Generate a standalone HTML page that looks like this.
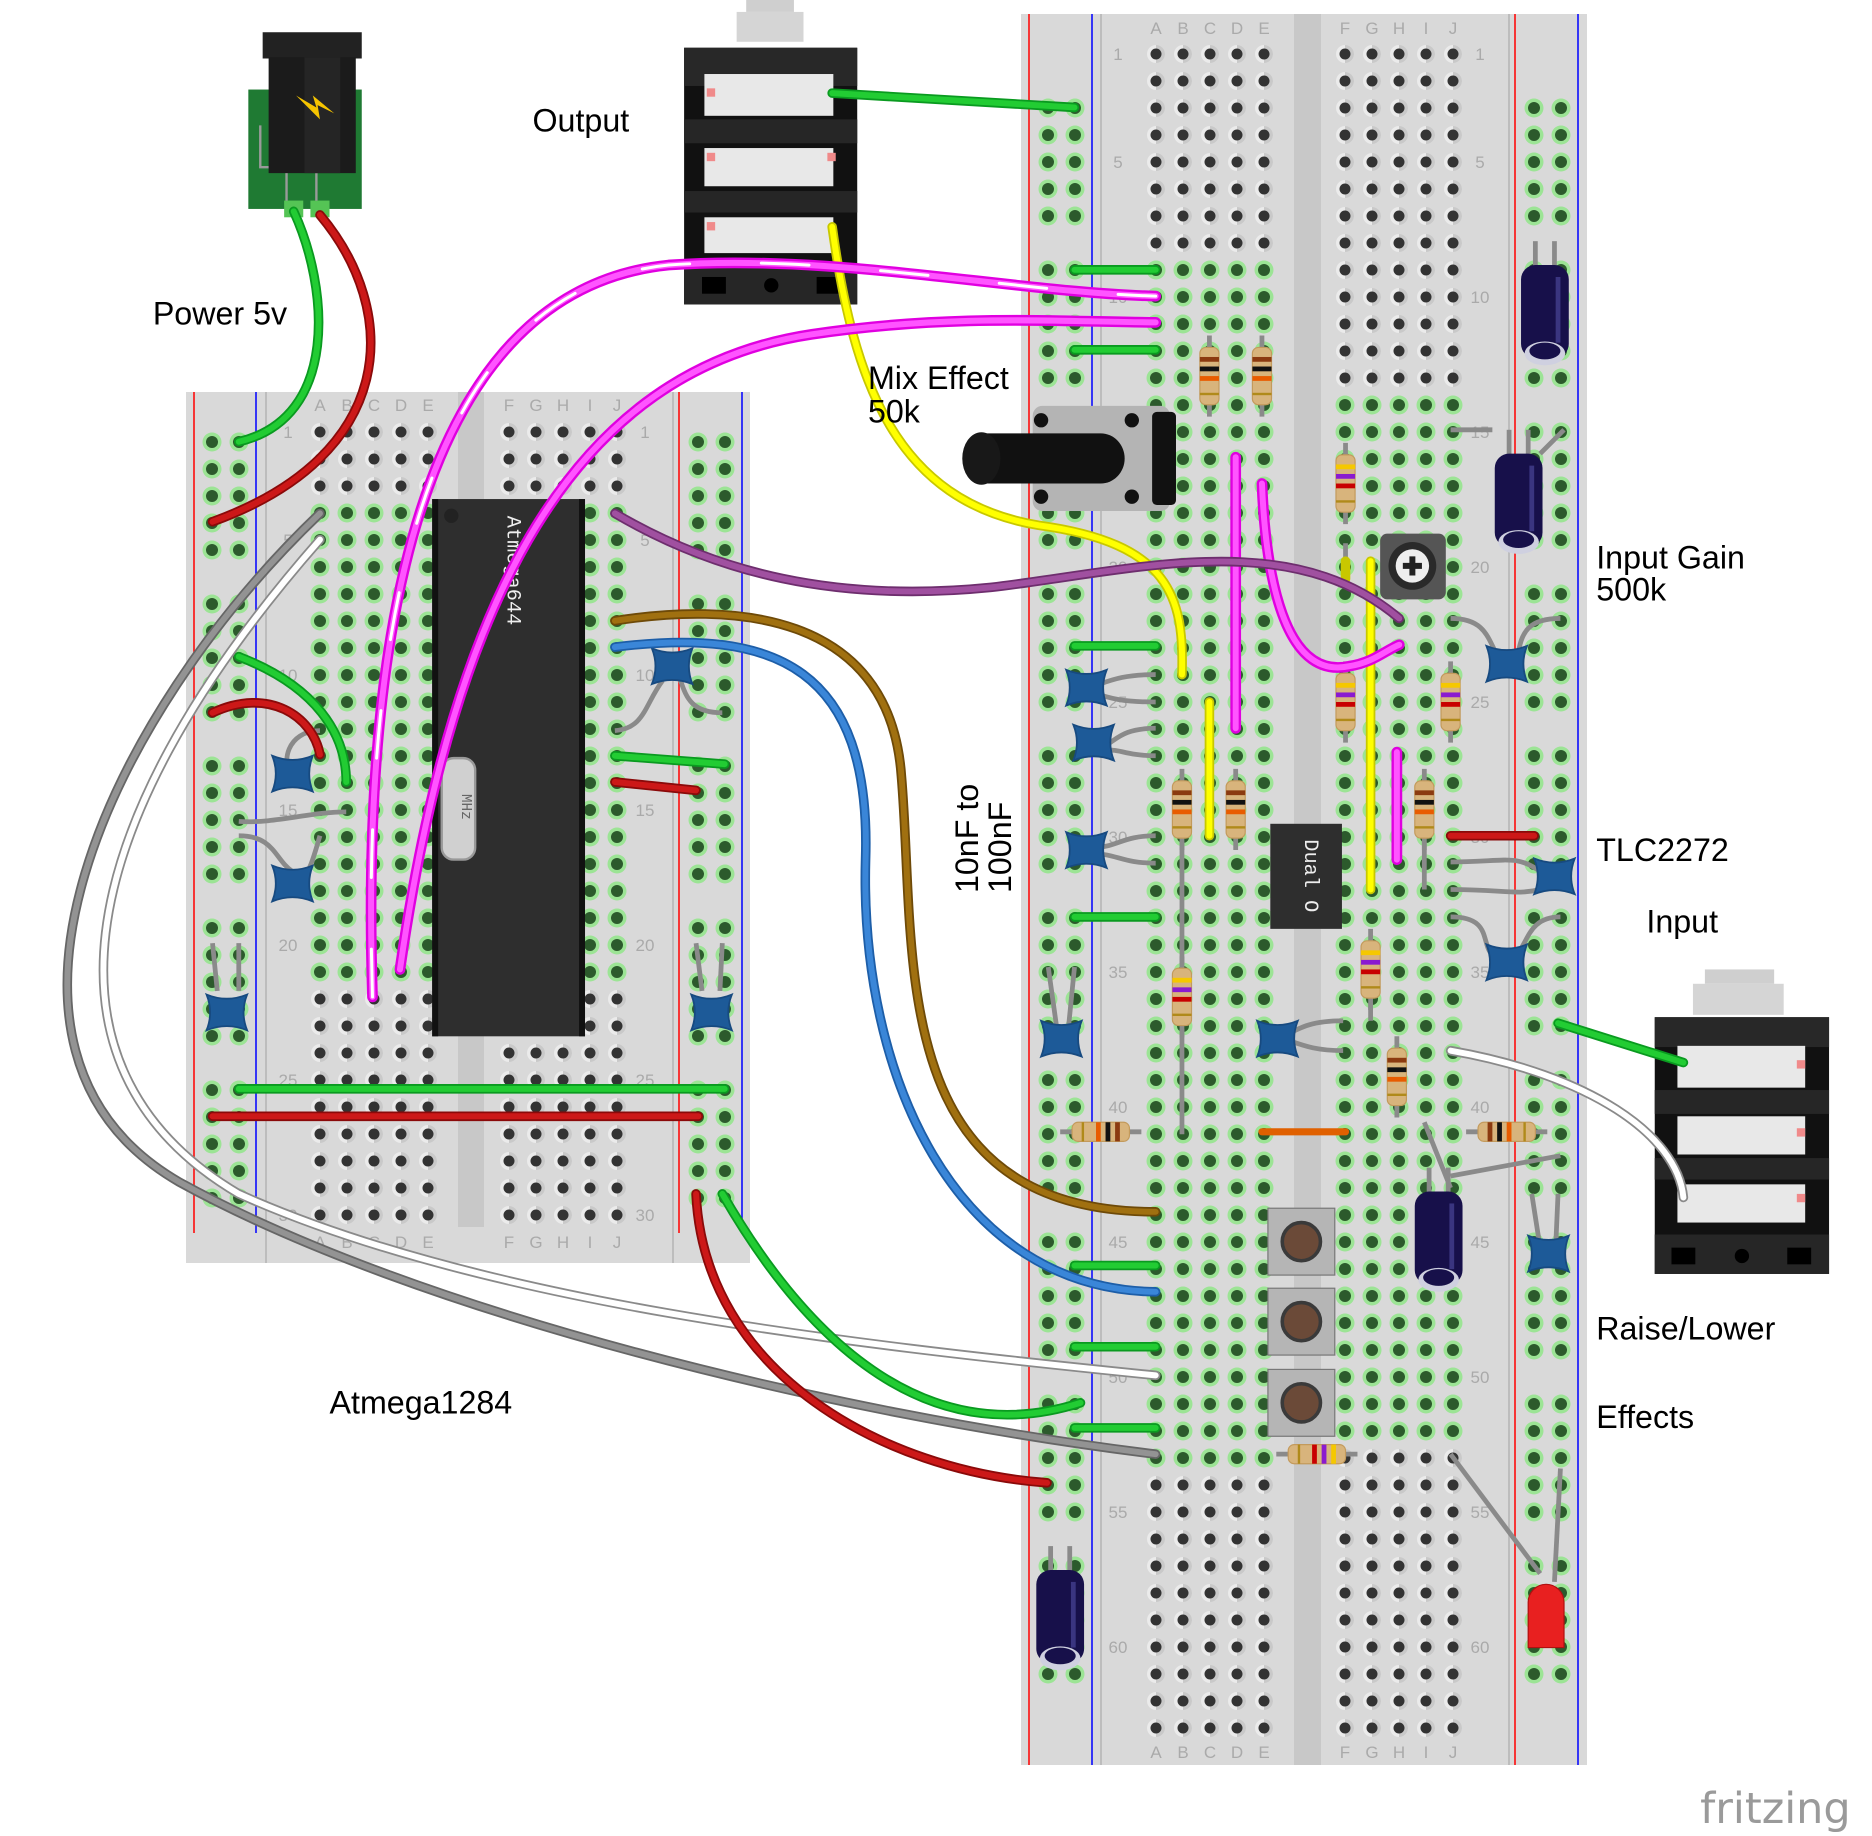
<!DOCTYPE html>
<html><head><meta charset="utf-8"><style>html,body{margin:0;padding:0;background:#fff}svg{display:block}</style></head>
<body>
<svg xmlns="http://www.w3.org/2000/svg" width="1872" height="1836" viewBox="0 0 1872 1836">
<defs>
<pattern id="ph" width="27" height="27" patternUnits="userSpaceOnUse">
<circle cx="13.5" cy="13.5" r="9" fill="#ebebeb"/><path d="M13.5 4.5 A9 9 0 0 1 13.5 22.5Z" fill="#c9c9c9"/><circle cx="13.5" cy="13.5" r="5.5" fill="#333"/></pattern>
<pattern id="pg" width="27" height="27" patternUnits="userSpaceOnUse">
<rect width="27" height="27" fill="#d9d9d9"/><circle cx="13.5" cy="13.5" r="9.5" fill="#9ce495"/><circle cx="13.5" cy="13.5" r="6" fill="#2c5a2c"/></pattern>
<pattern id="rg" width="27" height="162" patternUnits="userSpaceOnUse">
<circle cx="13.5" cy="13.5" r="9.5" fill="#9ce495"/><circle cx="13.5" cy="13.5" r="6" fill="#2c5a2c"/>
<circle cx="13.5" cy="40.5" r="9.5" fill="#9ce495"/><circle cx="13.5" cy="40.5" r="6" fill="#2c5a2c"/>
<circle cx="13.5" cy="67.5" r="9.5" fill="#9ce495"/><circle cx="13.5" cy="67.5" r="6" fill="#2c5a2c"/>
<circle cx="13.5" cy="94.5" r="9.5" fill="#9ce495"/><circle cx="13.5" cy="94.5" r="6" fill="#2c5a2c"/>
<circle cx="13.5" cy="121.5" r="9.5" fill="#9ce495"/><circle cx="13.5" cy="121.5" r="6" fill="#2c5a2c"/></pattern>
<g id="res"><line x1="0" y1="-34" x2="0" y2="34" stroke="#8a8a8a" stroke-width="4"/><rect x="-8" y="-24" width="16" height="48" rx="5" fill="#d8b47c" stroke="#c39a5c"/><rect x="-8" y="-16" width="16" height="4" fill="#8b3a10"/><rect x="-8" y="-8" width="16" height="4" fill="#111"/><rect x="-8" y="0" width="16" height="4" fill="#e85c00"/><rect x="-8" y="14" width="16" height="2" fill="#b08a1a"/></g>
<g id="res2"><line x1="0" y1="-34" x2="0" y2="34" stroke="#8a8a8a" stroke-width="4"/><rect x="-8" y="-24" width="16" height="48" rx="5" fill="#d8b47c" stroke="#c39a5c"/><rect x="-8" y="-16" width="16" height="4" fill="#f5c800"/><rect x="-8" y="-8" width="16" height="4" fill="#8a1ad0"/><rect x="-8" y="0" width="16" height="4" fill="#c80000"/><rect x="-8" y="14" width="16" height="2" fill="#b08a1a"/></g>
<g id="cap"><path d="M-17,-15 Q0,-8 17,-15 Q11,0 17,15 Q0,8 -17,15 Q-11,0 -17,-15Z" fill="#1d5a98" stroke="#174a80" stroke-width="1.5"/></g>
<g id="ecap"><line x1="-8" y1="-60" x2="-8" y2="-35" stroke="#8a8a8a" stroke-width="4"/><line x1="8" y1="-60" x2="8" y2="-35" stroke="#8a8a8a" stroke-width="4"/><rect x="-20" y="-40" width="40" height="78" rx="12" fill="#17104a"/><ellipse cx="0" cy="34" rx="17" ry="10" fill="#cfd0e0"/><ellipse cx="0" cy="32" rx="13" ry="7" fill="#17104a"/><rect x="9" y="-30" width="4" height="55" fill="#3a3580"/></g>
<g id="btn"><rect x="-28" y="-28" width="56" height="56" fill="#b5b5b5" stroke="#777"/><circle cx="0" cy="0" r="16" fill="#6b4a38" stroke="#3a3a3a" stroke-width="3"/></g>
</defs>

<!-- RIGHT BREADBOARD -->
<rect x="1021" y="14" width="566" height="1751" fill="#d9d9d9"/>
<rect x="1294" y="14" width="27" height="1751" fill="#c8c8c8"/>
<line x1="1029" y1="14" x2="1029" y2="1765" stroke="#f00" stroke-width="1.5"/>
<line x1="1092" y1="14" x2="1092" y2="1765" stroke="#00f" stroke-width="1.5"/>
<line x1="1515" y1="14" x2="1515" y2="1765" stroke="#f00" stroke-width="1.5"/>
<line x1="1578" y1="14" x2="1578" y2="1765" stroke="#00f" stroke-width="1.5"/>
<line x1="1101" y1="14" x2="1101" y2="1765" stroke="#bdbdbd" stroke-width="2"/>
<line x1="1509" y1="14" x2="1509" y2="1765" stroke="#bdbdbd" stroke-width="2"/>
<g transform="translate(1034.5,94.5)"><rect width="54" height="1620" fill="url(#rg)"/></g>
<g transform="translate(1520.5,94.5)"><rect width="54" height="1620" fill="url(#rg)"/></g>
<g transform="translate(1142.5,40.5)"><rect width="135" height="1701" fill="url(#ph)"/></g>
<g transform="translate(1331.5,40.5)"><rect width="135" height="1701" fill="url(#ph)"/></g>
<g transform="translate(1142.5,256.5)"><rect width="135" height="1215" fill="url(#pg)"/></g>
<g transform="translate(1331.5,391.5)"><rect width="135" height="1053" fill="url(#pg)"/></g>
<g font-family="Liberation Sans, sans-serif" font-size="17" fill="#aaa" text-anchor="middle">
<text x="1156" y="34">A</text><text x="1183" y="34">B</text><text x="1210" y="34">C</text><text x="1237" y="34">D</text><text x="1264" y="34">E</text>
<text x="1345" y="34">F</text><text x="1372" y="34">G</text><text x="1399" y="34">H</text><text x="1426" y="34">I</text><text x="1453" y="34">J</text>
<text x="1156" y="1758">A</text><text x="1183" y="1758">B</text><text x="1210" y="1758">C</text><text x="1237" y="1758">D</text><text x="1264" y="1758">E</text>
<text x="1345" y="1758">F</text><text x="1372" y="1758">G</text><text x="1399" y="1758">H</text><text x="1426" y="1758">I</text><text x="1453" y="1758">J</text>
<text x="1118" y="60">1</text><text x="1118" y="168">5</text><text x="1118" y="303">10</text><text x="1118" y="438">15</text><text x="1118" y="573">20</text><text x="1118" y="708">25</text><text x="1118" y="843">30</text><text x="1118" y="978">35</text><text x="1118" y="1113">40</text><text x="1118" y="1248">45</text><text x="1118" y="1383">50</text><text x="1118" y="1518">55</text><text x="1118" y="1653">60</text>
<text x="1480" y="60">1</text><text x="1480" y="168">5</text><text x="1480" y="303">10</text><text x="1480" y="438">15</text><text x="1480" y="573">20</text><text x="1480" y="708">25</text><text x="1480" y="843">30</text><text x="1480" y="978">35</text><text x="1480" y="1113">40</text><text x="1480" y="1248">45</text><text x="1480" y="1383">50</text><text x="1480" y="1518">55</text><text x="1480" y="1653">60</text>
</g>

<!-- LEFT BREADBOARD -->
<rect x="186" y="392" width="564" height="871" fill="#d9d9d9"/>
<rect x="458" y="392" width="26" height="835" fill="#c8c8c8"/>
<line x1="194" y1="392" x2="194" y2="1233" stroke="#f00" stroke-width="1.5"/>
<line x1="256" y1="392" x2="256" y2="1233" stroke="#00f" stroke-width="1.5"/>
<line x1="679" y1="392" x2="679" y2="1233" stroke="#f00" stroke-width="1.5"/>
<line x1="742" y1="392" x2="742" y2="1233" stroke="#00f" stroke-width="1.5"/>
<line x1="266" y1="392" x2="266" y2="1263" stroke="#bdbdbd" stroke-width="2"/>
<line x1="673" y1="392" x2="673" y2="1263" stroke="#bdbdbd" stroke-width="2"/>
<g transform="translate(198.5,428.5)"><rect width="54" height="810" fill="url(#rg)"/></g>
<g transform="translate(684.5,428.5)"><rect width="54" height="810" fill="url(#rg)"/></g>
<g transform="translate(306.5,418.5)"><rect width="135" height="810" fill="url(#ph)"/></g>
<g transform="translate(495.5,418.5)"><rect width="135" height="810" fill="url(#ph)"/></g>
<g transform="translate(306.5,499.5)"><rect width="135" height="486" fill="url(#pg)"/></g>
<g transform="translate(495.5,499.5)"><rect width="135" height="486" fill="url(#pg)"/></g>
<g font-family="Liberation Sans, sans-serif" font-size="17" fill="#aaa" text-anchor="middle">
<text x="320" y="411">A</text><text x="347" y="411">B</text><text x="374" y="411">C</text><text x="401" y="411">D</text><text x="428" y="411">E</text>
<text x="509" y="411">F</text><text x="536" y="411">G</text><text x="563" y="411">H</text><text x="590" y="411">I</text><text x="617" y="411">J</text>
<text x="320" y="1248">A</text><text x="347" y="1248">B</text><text x="374" y="1248">C</text><text x="401" y="1248">D</text><text x="428" y="1248">E</text>
<text x="509" y="1248">F</text><text x="536" y="1248">G</text><text x="563" y="1248">H</text><text x="590" y="1248">I</text><text x="617" y="1248">J</text>
<text x="288" y="438">1</text><text x="288" y="546">5</text><text x="288" y="681">10</text><text x="288" y="816">15</text><text x="288" y="951">20</text><text x="288" y="1086">25</text><text x="288" y="1221">30</text>
<text x="645" y="438">1</text><text x="645" y="546">5</text><text x="645" y="681">10</text><text x="645" y="816">15</text><text x="645" y="951">20</text><text x="645" y="1086">25</text><text x="645" y="1221">30</text>
</g>

<!-- OVERLAY in displayed coordinates -->
<g transform="scale(1.1939)">
<!-- Atmega chip -->
<rect x="362" y="418" width="128" height="450" fill="#2e2e2e"/>
<rect x="362" y="418" width="5" height="450" fill="#111"/><rect x="485" y="418" width="5" height="450" fill="#111"/>
<circle cx="378" cy="432" r="6" fill="#222"/>
<text transform="translate(425,432) rotate(90)" font-family="Liberation Mono, monospace" font-size="17" fill="#eee">Atmega644</text>
<!-- Crystal -->
<rect x="370" y="635" width="28" height="85" rx="10" fill="#d0d0d0" stroke="#999" stroke-width="2"/>
<text transform="translate(387,665) rotate(90)" font-family="Liberation Mono, monospace" font-size="12" fill="#666">MHz</text>
<!-- dual chip -->
<rect x="1064" y="690" width="60" height="88" fill="#2e2e2e"/>
<text transform="translate(1093,703) rotate(90)" font-family="Liberation Mono, monospace" font-size="17" fill="#eee">Dual O</text>

<!-- left board caps & leads -->
<g stroke="#8a8a8a" stroke-width="4" fill="none">
<path d="M268,612 C240,612 235,640 245,650"/><path d="M200,688 C230,690 260,680 290,680"/><path d="M200,700 C230,700 230,720 245,730"/><path d="M268,700 C262,720 260,730 250,740"/>
<path d="M178,790 L182,830"/><path d="M200,790 L200,830"/><path d="M583,790 L588,830"/><path d="M605,790 L603,830"/>
<path d="M515,612 C540,610 540,590 555,570"/><path d="M605,597 C580,597 575,585 570,570"/>
<path d="M1127,455 L1127,475"/><path d="M990,705 L990,808"/><path d="M990,862 L990,950"/><path d="M1193,705 L1193,745"/>
<path d="M1148,840 L1148,855"/><path d="M1215,360 L1250,360"/><path d="M1310,360 L1290,380"/>
<path d="M1215,518 C1240,518 1245,530 1252,545"/><path d="M1307,518 C1280,518 1275,530 1272,545"/>
<path d="M1215,722 C1260,722 1270,715 1290,730"/><path d="M1215,745 C1260,745 1270,750 1290,745"/>
<path d="M1215,768 C1250,768 1240,790 1250,800"/><path d="M1307,768 C1280,768 1280,790 1270,800"/>
<path d="M968,565 C940,565 930,570 915,575"/><path d="M968,588 C940,588 930,585 915,580"/>
<path d="M968,610 C940,610 935,620 925,625"/><path d="M968,633 C940,633 935,625 925,630"/>
<path d="M968,700 C940,700 935,710 915,710"/><path d="M968,723 C940,723 935,715 915,715"/>
<path d="M878,810 L885,860"/><path d="M900,810 L895,860"/>
<path d="M1125,855 C1100,855 1090,860 1075,868"/><path d="M1125,880 C1100,880 1090,875 1075,870"/>
<path d="M1215,995 L1193,940"/><path d="M1215,985 L1307,968"/>
<path d="M1283,1000 L1290,1045"/><path d="M1305,1000 L1303,1045"/>
<path d="M1215,1218 L1290,1318"/><path d="M1307,1230 L1302,1325"/>
</g>
<use href="#cap" transform="translate(245,648)"/><use href="#cap" transform="translate(245,740)"/>
<use href="#cap" transform="translate(190,848)"/><use href="#cap" transform="translate(596,848)"/><use href="#cap" transform="translate(563,558)"/>
<use href="#cap" transform="translate(910,576)"/><use href="#cap" transform="translate(916,622)"/><use href="#cap" transform="translate(910,712)"/>
<use href="#cap" transform="translate(889,870)"/><use href="#cap" transform="translate(1070,870)"/><use href="#cap" transform="translate(1262,556)"/>
<use href="#cap" transform="translate(1302,734)"/><use href="#cap" transform="translate(1262,806)"/><use href="#cap" transform="translate(1297,1050)"/>

<!-- resistors -->
<use href="#res" transform="translate(1013,315)"/><use href="#res" transform="translate(1057,315)"/>
<use href="#res2" transform="translate(1127,405)"/><use href="#res2" transform="translate(1127,588)"/><use href="#res2" transform="translate(1215,588)"/>
<use href="#res" transform="translate(990,678)"/><use href="#res" transform="translate(1035,678)"/><use href="#res" transform="translate(1193,678)"/>
<use href="#res2" transform="translate(990,835)"/><use href="#res2" transform="translate(1148,812)"/><use href="#res" transform="translate(1170,902)"/>
<use href="#res" transform="translate(922,948) rotate(90)"/><use href="#res" transform="translate(1262,948) rotate(-90)"/><use href="#res2" transform="translate(1103,1218) rotate(90)"/>

<!-- electrolytic caps -->
<use href="#ecap" transform="translate(1294,262)"/><use href="#ecap" transform="translate(1272,420)"/>
<use href="#ecap" transform="translate(1205,1038)"/><use href="#ecap" transform="translate(888,1355)"/>

<!-- buttons -->
<use href="#btn" transform="translate(1090,1040)"/><use href="#btn" transform="translate(1090,1107)"/><use href="#btn" transform="translate(1090,1175)"/>

<!-- trimmer -->
<rect x="1156" y="447" width="55" height="55" rx="6" fill="#555"/>
<circle cx="1183" cy="474" r="20" fill="#2a2a2a"/><circle cx="1183" cy="474" r="14" fill="#eee"/>
<path d="M1175,474 H1191 M1183,466 V482" stroke="#222" stroke-width="5"/>

<!-- LED -->
<path d="M1280,1380 V1342 A15,15 0 0 1 1310,1342 V1380 Z" fill="#e82020" stroke="#b01010"/>

<!-- Potentiometer -->
<rect x="865" y="340" width="115" height="88" rx="8" fill="#b4b4b4"/>
<rect x="965" y="345" width="20" height="78" rx="4" fill="#111"/>
<circle cx="872" cy="352" r="6" fill="#111"/><circle cx="948" cy="352" r="6" fill="#111"/><circle cx="872" cy="416" r="6" fill="#111"/><circle cx="948" cy="416" r="6" fill="#111"/>
<path d="M820,363 H922 A20,21 0 0 1 922,405 H820 Z" fill="#111"/>
<ellipse cx="822" cy="384" rx="16" ry="22" fill="#181818"/>

<!-- DC jack -->
<rect x="208" y="75" width="95" height="100" fill="#1f7a33"/>
<path d="M218,105 V140 H240 V170 M265,140 V170" stroke="#9a9a9a" stroke-width="2" fill="none"/>
<rect x="220" y="27" width="83" height="22" fill="#222"/>
<rect x="225" y="48" width="73" height="97" fill="#1b1b1b"/>
<rect x="255" y="48" width="30" height="97" fill="#252525"/>
<path d="M248,80 L265,90 L262,80 L280,95 L266,88 L268,100 Z" fill="#f5c400"/>
<rect x="238" y="168" width="16" height="14" fill="#55c455"/><rect x="260" y="168" width="16" height="14" fill="#55c455"/>

<!-- Output jack -->
<rect x="625" y="0" width="40" height="10" fill="#cfcfcf"/><rect x="617" y="10" width="56" height="25" fill="#d5d5d5"/>
<rect x="573" y="40" width="145" height="215" fill="#111"/>
<rect x="573" y="40" width="145" height="32" fill="#282828"/>
<rect x="590" y="62" width="108" height="35" fill="#e8e8e8"/><rect x="590" y="124" width="108" height="32" fill="#e8e8e8"/><rect x="590" y="182" width="108" height="30" fill="#e8e8e8"/>
<rect x="573" y="100" width="145" height="20" fill="#262626"/><rect x="573" y="160" width="145" height="18" fill="#262626"/>
<rect x="573" y="222" width="145" height="33" fill="#262626"/>
<rect x="588" y="232" width="20" height="14" fill="#000"/><rect x="684" y="232" width="20" height="14" fill="#000"/><circle cx="646" cy="239" r="6" fill="#000"/>
<rect x="592" y="74" width="7" height="7" fill="#f08a8a"/><rect x="592" y="128" width="7" height="7" fill="#f08a8a"/><rect x="693" y="128" width="7" height="7" fill="#f08a8a"/><rect x="592" y="186" width="7" height="7" fill="#f08a8a"/>

<!-- Input jack -->
<rect x="1428" y="812" width="58" height="12" fill="#cfcfcf"/><rect x="1418" y="824" width="76" height="26" fill="#d5d5d5"/>
<rect x="1386" y="852" width="146" height="215" fill="#111"/>
<rect x="1386" y="852" width="146" height="25" fill="#282828"/>
<rect x="1405" y="876" width="107" height="35" fill="#e8e8e8"/><rect x="1405" y="935" width="107" height="32" fill="#e8e8e8"/><rect x="1405" y="992" width="107" height="32" fill="#e8e8e8"/>
<rect x="1386" y="913" width="146" height="20" fill="#262626"/><rect x="1386" y="970" width="146" height="18" fill="#262626"/>
<rect x="1386" y="1034" width="146" height="33" fill="#262626"/>
<rect x="1400" y="1045" width="20" height="14" fill="#000"/><rect x="1497" y="1045" width="20" height="14" fill="#000"/><circle cx="1459" cy="1052" r="6" fill="#000"/>
<rect x="1505" y="888" width="7" height="7" fill="#f08a8a"/><rect x="1505" y="945" width="7" height="7" fill="#f08a8a"/><rect x="1505" y="1000" width="7" height="7" fill="#f08a8a"/>

<!-- WIRES -->
<g fill="none" stroke-linecap="round">
<path d="M246,177 C275,240 285,350 200,370" stroke="#0a9a20" stroke-width="8"/><path d="M246,177 C275,240 285,350 200,370" stroke="#22cc33" stroke-width="5"/>
<path d="M268,180 C335,260 335,380 178,437" stroke="#8a0a0a" stroke-width="8"/><path d="M268,180 C335,260 335,380 178,437" stroke="#cc1818" stroke-width="5"/>
<path d="M697,78 L900,90" stroke="#0a9a20" stroke-width="8"/><path d="M697,78 L900,90" stroke="#22cc33" stroke-width="5"/>
<g stroke="#0a9a20" stroke-width="8"><path d="M900,226 H968 M900,293 H968 M900,541 H968 M900,768 H968 M900,1060 H968 M900,1128 H968 M900,1196 H968 M200,912 H607 M515,633 L607,640 M1305,857 L1410,890"/></g>
<g stroke="#22cc33" stroke-width="5"><path d="M900,226 H968 M900,293 H968 M900,541 H968 M900,768 H968 M900,1060 H968 M900,1128 H968 M900,1196 H968 M200,912 H607 M515,633 L607,640 M1305,857 L1410,890"/></g>
<g stroke="#8a0a0a" stroke-width="8"><path d="M178,935 H585 M515,655 L583,662 M1215,700 H1285"/></g>
<g stroke="#cc1818" stroke-width="5"><path d="M178,935 H585 M515,655 L583,662 M1215,700 H1285"/></g>
<path d="M1057,948 H1127" stroke="#e06000" stroke-width="6"/>
<path d="M200,550 C265,575 290,615 290,655" stroke="#0a9a20" stroke-width="8"/><path d="M200,550 C265,575 290,615 290,655" stroke="#22cc33" stroke-width="5"/>
<path d="M178,597 C225,575 262,600 268,632" stroke="#8a0a0a" stroke-width="8"/><path d="M178,597 C225,575 262,600 268,632" stroke="#cc1818" stroke-width="5"/>
<!-- yellow -->
<g stroke="#c8c800" stroke-width="8"><path d="M697,190 C715,320 750,420 870,440 C980,455 992,500 990,565"/><path d="M1013,588 V700"/><path d="M1148,470 V745"/><path d="M1127,470 V485"/></g>
<g stroke="#ffff00" stroke-width="5"><path d="M697,190 C715,320 750,420 870,440 C980,455 992,500 990,565"/><path d="M1013,588 V700"/><path d="M1148,470 V745"/></g>
<!-- magenta -->
<g stroke="#e000e0" stroke-width="9"><path d="M312,835 C300,460 380,240 560,222 C700,212 850,245 968,248"/><path d="M335,812 C380,500 480,310 680,280 C800,262 900,270 968,270"/><path d="M1035,383 V610"/><path d="M1057,405 C1060,480 1075,570 1130,558 C1150,555 1160,545 1172,540"/><path d="M1170,630 V720"/></g>
<g stroke="#ff55ff" stroke-width="5"><path d="M312,835 C300,460 380,240 560,222 C700,212 850,245 968,248"/><path d="M335,812 C380,500 480,310 680,280 C800,262 900,270 968,270"/><path d="M1035,383 V610"/><path d="M1057,405 C1060,480 1075,570 1130,558 C1150,555 1160,545 1172,540"/><path d="M1170,630 V720"/></g>
<path d="M312,835 C300,460 380,240 560,222 C700,212 850,245 968,248" stroke="#fff" stroke-width="2.5" stroke-dasharray="40 60"/>
<!-- purple -->
<path d="M515,430 C600,480 700,505 830,492 C950,478 1080,440 1172,518" stroke="#6e2e6e" stroke-width="8"/><path d="M515,430 C600,480 700,505 830,492 C950,478 1080,440 1172,518" stroke="#a050a0" stroke-width="5"/>
<!-- brown -->
<path d="M515,520 C610,505 745,510 755,650 C768,800 740,1015 968,1015" stroke="#6e4a08" stroke-width="8"/><path d="M515,520 C610,505 745,510 755,650 C768,800 740,1015 968,1015" stroke="#a07010" stroke-width="5"/>
<!-- blue -->
<path d="M515,542 C650,525 730,560 725,720 C720,900 800,1080 968,1082" stroke="#1d5ea8" stroke-width="8"/><path d="M515,542 C650,525 730,560 725,720 C720,900 800,1080 968,1082" stroke="#3a86d8" stroke-width="5"/>
<!-- gray -->
<path d="M268,430 C90,600 -40,880 150,990 C350,1100 700,1185 968,1218" stroke="#666" stroke-width="8"/><path d="M268,430 C90,600 -40,880 150,990 C350,1100 700,1185 968,1218" stroke="#939393" stroke-width="5"/>
<!-- white -->
<path d="M268,452 C50,700 30,900 200,1000 C400,1090 700,1125 968,1152" stroke="#8a8a8a" stroke-width="8"/><path d="M268,452 C50,700 30,900 200,1000 C400,1090 700,1125 968,1152" stroke="#fff" stroke-width="5"/>
<path d="M1215,880 C1330,900 1405,950 1410,1003" stroke="#8a8a8a" stroke-width="8"/><path d="M1215,880 C1330,900 1405,950 1410,1003" stroke="#fff" stroke-width="5"/>
<!-- bottom left green/red -->
<path d="M605,1000 C680,1130 780,1215 905,1175" stroke="#0a9a20" stroke-width="8"/><path d="M605,1000 C680,1130 780,1215 905,1175" stroke="#22cc33" stroke-width="5"/>
<path d="M583,1000 C590,1150 740,1232 877,1242" stroke="#8a0a0a" stroke-width="8"/><path d="M583,1000 C590,1150 740,1232 877,1242" stroke="#cc1818" stroke-width="5"/>
</g>

<!-- Labels -->
<g font-family="Liberation Sans, DejaVu Sans, sans-serif" font-size="27" fill="#000">
<text x="128" y="272">Power 5v</text>
<text x="446" y="110">Output</text>
<text x="727" y="326">Mix Effect</text>
<text x="727" y="354">50k</text>
<text x="1337" y="476">Input Gain</text>
<text x="1337" y="503">500k</text>
<text x="1337" y="721">TLC2272</text>
<text x="1379" y="781">Input</text>
<text x="1337" y="1122">Raise/Lower</text>
<text x="1337" y="1196">Effects</text>
<text x="276" y="1184">Atmega1284</text>
<text transform="translate(819,748) rotate(-90)">10nF to</text>
<text transform="translate(847,748) rotate(-90)">100nF</text>
</g>
<text x="1424" y="1527" font-family="DejaVu Sans, Liberation Sans, sans-serif" font-size="36" fill="#9a9a9a">fritzing</text>
</g>
</svg>
</body></html>
